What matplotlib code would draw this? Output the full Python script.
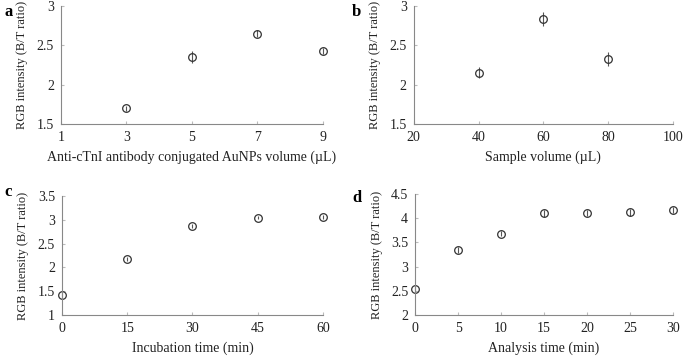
import matplotlib.pyplot as plt

plt.rcParams["font.family"] = ["Liberation Serif", "DejaVu Serif"]

# panel a
a_x = [3, 5, 7, 9]
a_y = [1.70, 2.35, 2.65, 2.43]
a_err = [0.03, 0.08, 0.05, 0.04]

# panel b
b_x = [40, 60, 80]
b_y = [2.15, 2.83, 2.33]
b_err = [0.07, 0.09, 0.09]

# panel c
c_x = [0, 15, 30, 45, 60]
c_y = [1.42, 2.18, 2.87, 3.05, 3.06]
c_err = [0.05, 0.05, 0.04, 0.04, 0.04]

# panel d
d_x = [0, 5, 10, 15, 20, 25, 30]
d_y = [2.53, 3.35, 3.68, 4.10, 4.10, 4.12, 4.17]
d_err = [0.04, 0.06, 0.05, 0.07, 0.06, 0.07, 0.06]

panels = [
    ("a", (0.006, 0.965), a_x, a_y, a_err, [0.089, 0.652, 0.3825, 0.331], (1, 9), [1, 3, 5, 7, 9],
     (1.5, 3), [1.5, 2, 2.5, 3], ["1.5", "2", "2.5", "3"],
     "Anti-cTnI antibody conjugated AuNPs volume (\u00b5L)"),
    ("b", (0.514, 0.965), b_x, b_y, b_err, [0.604, 0.652, 0.3785, 0.331], (20, 100), [20, 40, 60, 80, 100],
     (1.5, 3), [1.5, 2, 2.5, 3], ["1.5", "2", "2.5", "3"],
     "Sample volume (\u00b5L)"),
    ("c", (0.006, 0.462), c_x, c_y, c_err, [0.0905, 0.115, 0.381, 0.334], (0, 60), [0, 15, 30, 45, 60],
     (1, 3.5), [1, 1.5, 2, 2.5, 3, 3.5], ["1", "1.5", "2", "2.5", "3", "3.5"],
     "Incubation time (min)"),
    ("d", (0.514, 0.444), d_x, d_y, d_err, [0.606, 0.115, 0.3765, 0.340], (0, 30), [0, 5, 10, 15, 20, 25, 30],
     (2, 4.5), [2, 2.5, 3, 3.5, 4, 4.5], ["2", "2.5", "3", "3.5", "4", "4.5"],
     "Analysis time (min)"),
]

fig = plt.figure(figsize=(6.85, 3.56), dpi=100)

for label, lpos, x, y, err, rect, xlim, xticks, ylim, yticks, ylabels, xlabel in panels:
    ax = fig.add_axes(rect)
    ax.errorbar(x, y, yerr=err, fmt="o", mfc="none", mec="#333333", ecolor="#555555",
                ms=5.5, mew=0.9, elinewidth=0.8, capsize=0, clip_on=False)
    ax.set_xlim(*xlim)
    ax.set_ylim(*ylim)
    ax.set_xticks(xticks)
    ax.set_yticks(yticks)
    ax.set_yticklabels(ylabels)
    for side in ["top", "right"]:
        ax.spines[side].set_visible(False)
    for side in ["left", "bottom"]:
        ax.spines[side].set_color("#888888")
        ax.spines[side].set_linewidth(0.8)
    ax.tick_params(direction="in", length=2, color="#bbbbbb", labelsize=10,
                   labelcolor="#222222", pad=5)
    ax.set_xlabel(xlabel, fontsize=10, color="#222222", labelpad=5)
    ax.set_ylabel("RGB intensity (B/T ratio)", fontsize=9, color="#222222", labelpad=6)
    fig.text(lpos[0], lpos[1], label, fontsize=12, fontweight="bold",
             ha="left", va="center")

fig.savefig("out.png", dpi=100)
